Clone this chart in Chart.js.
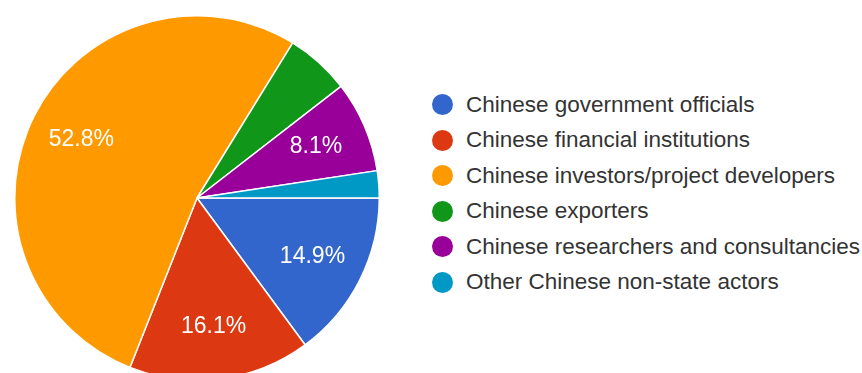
<!DOCTYPE html>
<html>
<head>
<meta charset="utf-8">
<script src="https://cdn.jsdelivr.net/npm/chart.js@4/dist/chart.umd.min.js"></script>
<style>
  html, body { margin: 0; padding: 0; background: #fff; overflow: hidden; }
  body { width: 862px; height: 373px; position: relative; font-family: "Liberation Sans", Arial, sans-serif; }
  #pieBox { position: absolute; left: 14px; top: 15px; width: 366px; height: 366px; }
  #legend { position: absolute; left: 432px; top: 87px; margin: 0; padding: 0; list-style: none; }
  #legend li { height: 35.5px; display: flex; align-items: center; font-size: 22.5px; color: #333; white-space: nowrap; }
  #legend .dot { width: 21px; height: 21px; border-radius: 50%; margin-right: 13px; flex: none; }
</style>
</head>
<body>
<div id="pieBox"><canvas id="chart"></canvas></div>
<ul id="legend"></ul>
<script>
// Survey answer shares, in percent
const categories = [
  "Chinese government officials",
  "Chinese financial institutions",
  "Chinese investors/project developers",
  "Chinese exporters",
  "Chinese researchers and consultancies",
  "Other Chinese non-state actors"
];
const shares = [14.9, 16.1, 52.8, 5.7, 8.1, 2.4];
const colors = ["#3366cc", "#dc3912", "#ff9900", "#109618", "#990099", "#0099c6"];

// slices under this share get no text inside them
const LABEL_MIN = 7;

function buildLegend(){
  const ul = document.getElementById("legend");
  categories.forEach((name, i) => {
    const li = document.createElement("li");
    const dot = document.createElement("span");
    dot.className = "dot";
    dot.style.background = colors[i];
    li.appendChild(dot);
    li.appendChild(document.createTextNode(name));
    ul.appendChild(li);
  });
}

const sliceLabels = {
  id: "sliceLabels",
  afterDatasetsDraw(chart){
    const {ctx} = chart;
    const meta = chart.getDatasetMeta(0);
    ctx.save();
    ctx.font = '23px "Liberation Sans", Arial, sans-serif';
    ctx.fillStyle = "#ffffff";
    ctx.textAlign = "center";
    ctx.textBaseline = "middle";
    meta.data.forEach((arc, i) => {
      const v = shares[i];
      if(v < LABEL_MIN) return;
      const mid = (arc.startAngle + arc.endAngle) / 2;
      const r = arc.outerRadius * 0.71;
      ctx.fillText(v.toFixed(1) + "%", arc.x + Math.cos(mid) * r, arc.y + Math.sin(mid) * r);
    });
    ctx.restore();
  }
};

buildLegend();

new Chart(document.getElementById("chart"), {
  type: "pie",
  data: {
    labels: categories,
    datasets: [{
      data: shares,
      backgroundColor: colors,
      borderColor: "#ffffff",
      borderWidth: 1.5
    }]
  },
  options: {
    responsive: true,
    maintainAspectRatio: false,
    animation: false,
    rotation: 90,
    layout: { padding: 0 },
    plugins: {
      legend: { display: false },
      tooltip: { enabled: false }
    }
  },
  plugins: [sliceLabels]
});
</script>
</body>
</html>
